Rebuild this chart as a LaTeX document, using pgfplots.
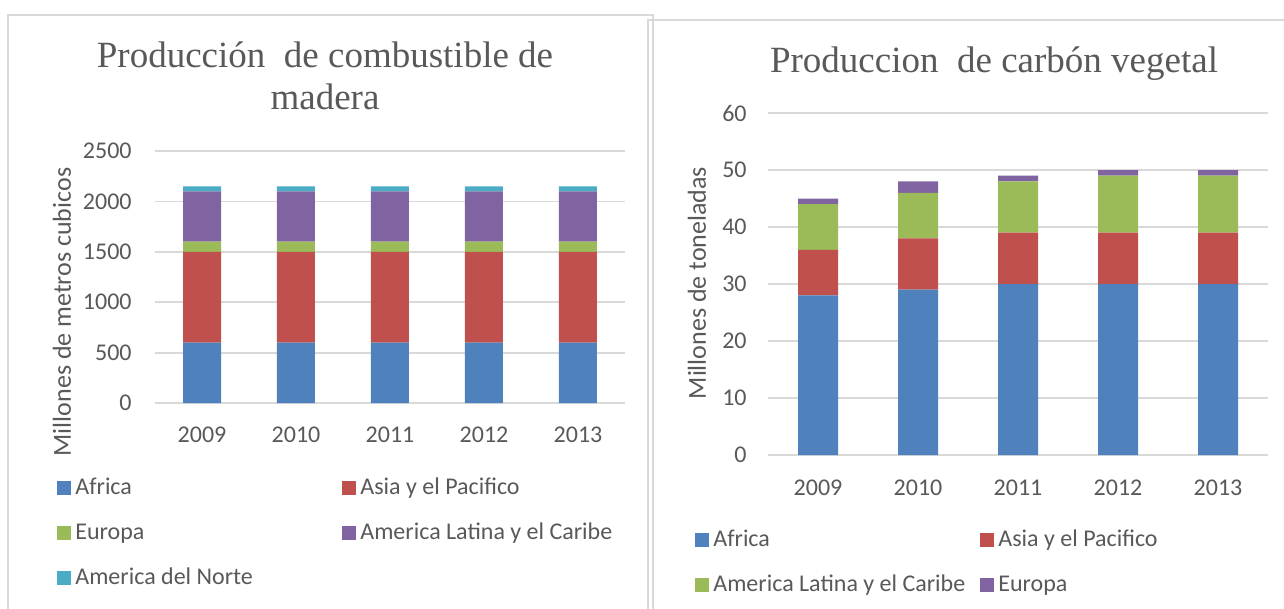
\documentclass[border=0pt]{standalone}
\usepackage{fontspec}
\setmainfont{Carlito}
\newfontfamily\titlefont{Liberation Serif}
\usepackage{pgfplots}
\pgfplotsset{compat=1.18}

\definecolor{cafrica}{HTML}{4F81BD}
\definecolor{casia}{HTML}{C0504D}
\definecolor{ceuropa}{HTML}{9BBB59}
\definecolor{clatam}{HTML}{8064A2}
\definecolor{cnorte}{HTML}{4BACC6}
\definecolor{txt}{HTML}{595959}
\definecolor{gridc}{HTML}{D9D9D9}

\pgfplotsset{
  sqlegend/.style={legend image code/.code={\fill[##1] (0pt,-3.5pt) rectangle (7pt,3.5pt);}},
  panel/.style={
    scale only axis, ybar stacked,
    axis line style={draw=none}, major tick length=0pt,
    ymajorgrids, grid style={gridc, line width=0.9pt},
    xtick={0,...,4}, xticklabels={2009,2010,2011,2012,2013},
    xmin=-0.5, xmax=4.5, ymin=0,
    tick label style={font=\fontsize{12}{14}\selectfont, text=txt},
    /pgf/number format/assume math mode=true,
    /pgf/number format/1000 sep={},
    yticklabel style={inner sep=0pt, anchor=east},
    xticklabel style={inner sep=0pt, anchor=north},
    every axis plot post/.append style={sqlegend, draw=none},
    legend cell align=left,
    legend columns=2,
    legend style={draw=none, fill=none, inner sep=0pt, anchor=north west,
      font=\fontsize{12}{14}\selectfont, text=txt,
      nodes={inner sep=2pt, text width=131.5pt, text height=9pt, text depth=3pt, align=flush left},
      row sep=6.5pt},
  }
}

\begin{document}
\begin{tikzpicture}
\useasboundingbox (0,0) rectangle (642pt,-304.5pt);
\clip (0,0) rectangle (642pt,-304.5pt);
\fill[white] (0,0) rectangle (642pt,-304.5pt);

% panel frames
\draw[gridc, line width=0.8pt] (4pt,-7.5pt) rectangle (326.5pt,-320pt);
\draw[gridc, line width=0.8pt] (324pt,-10pt) rectangle (650pt,-320pt);

% left: combustible de madera
\begin{axis}[panel,
  at={(77.5pt,-201.5pt)}, anchor=south west,
  width=235pt, height=126pt,
  ymax=2500, ytick={0,500,...,2500},
  bar width=19pt,
  yticklabel style={xshift=-11.5pt},
  xticklabel style={yshift=-12pt},
  legend style={at={(-0.2085,-0.2738)}}]
\addplot[fill=cafrica] coordinates {(0,600) (1,600) (2,600) (3,600) (4,600)};
\addplot[fill=casia] coordinates {(0,900) (1,900) (2,900) (3,900) (4,900)};
\addplot[fill=ceuropa] coordinates {(0,100) (1,100) (2,100) (3,100) (4,100)};
\addplot[fill=clatam] coordinates {(0,500) (1,500) (2,500) (3,500) (4,500)};
\addplot[fill=cnorte] coordinates {(0,50) (1,50) (2,50) (3,50) (4,50)};
\legend{Africa, Asia y el Pacifico, Europa, America Latina y el Caribe, America del Norte}
\end{axis}

% right: carbon vegetal
\begin{axis}[panel,
  at={(384pt,-227.5pt)}, anchor=south west,
  width=250pt, height=171pt,
  ymax=60, ytick={0,10,...,60},
  bar width=20pt,
  yticklabel style={xshift=-10.5pt},
  xticklabel style={yshift=-12.5pt},
  legend style={at={(-0.146,-0.2018)}}]
\addplot[fill=cafrica] coordinates {(0,28) (1,29) (2,30) (3,30) (4,30)};
\addplot[fill=casia] coordinates {(0,8) (1,9) (2,9) (3,9) (4,9)};
\addplot[fill=ceuropa] coordinates {(0,8) (1,8) (2,9) (3,10) (4,10)};
\addplot[fill=clatam] coordinates {(0,1) (1,2) (2,1) (3,1) (4,1)};
\legend{Africa, Asia y el Pacifico, America Latina y el Caribe, Europa}
\end{axis}

% titles and axis titles
\node[anchor=base, text=txt, font=\titlefont\fontsize{18.5}{22}\selectfont] at (162.5pt,-34pt) {Producción\ \ de combustible de};
\node[anchor=base, text=txt, font=\titlefont\fontsize{18.5}{22}\selectfont] at (162.5pt,-55pt) {madera};
\node[anchor=base, text=txt, font=\titlefont\fontsize{18.5}{22}\selectfont] at (497pt,-36.5pt) {Produccion\ \ de carbón vegetal};
\node[rotate=90, text=txt, font=\fontsize{13}{15}\selectfont] at (31pt,-156pt) {Millones de metros cubicos};
\node[rotate=90, text=txt, font=\fontsize{13}{15}\selectfont] at (348.5pt,-141.5pt) {Millones de toneladas};
\end{tikzpicture}
\end{document}
